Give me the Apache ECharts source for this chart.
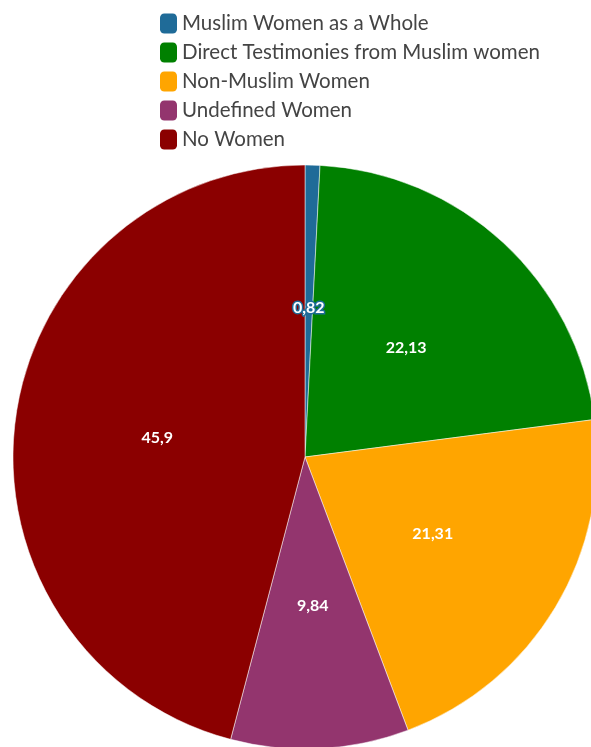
<!DOCTYPE html>
<html>
<head>
<meta charset="utf-8">
<script src="https://cdn.jsdelivr.net/npm/echarts@6/dist/echarts.min.js"></script>
<style>
  html, body { margin: 0; padding: 0; background: #fff; }
  #chart { width: 591px; height: 747px; }
</style>
</head>
<body>
<div id="chart"></div>
<script>
'use strict';

const categories = [
    'Muslim Women as a Whole',
    'Direct Testimonies from Muslim women',
    'Non-Muslim Women',
    'Undefined Women',
    'No Women',
];
const values = [0.82, 22.13, 21.31, 9.84, 45.9];
const colors = ['#1f6b98', '#008000', '#ffa500', '#93356e', '#8b0000'];

const chart = echarts.init(document.getElementById('chart'));

chart.setOption({
    animation: false,
    color: colors,
    legend: {
        orient: 'vertical',
        left: 160,
        top: 13,
        padding: 0,
        icon: 'roundRect',
        symbolKeepAspect: false,
        itemWidth: 17,
        itemHeight: 20,
        itemGap: 8,
        itemStyle: { borderWidth: 0 },
        textStyle: {
            fontFamily: 'Lato',
            fontSize: 20.5,
            lineHeight: 20,
            color: '#444',
        },
        data: categories,
    },
    series: [{
        type: 'pie',
        center: [305, 457],
        radius: 292,
        startAngle: 90,
        clockwise: true,
        itemStyle: { borderColor: '#fff', borderWidth: 0.5 },
        label: {
            position: 'inside',
            color: '#fff',
            fontFamily: 'Lato',
            fontWeight: 'bold',
            fontSize: 16,
            textBorderColor: 'inherit',
            textBorderWidth: 3,
            formatter: function (p) { return String(p.value).replace('.', ','); },
        },
        labelLine: { show: false },
        data: categories.map(function (name, i) {
            return { name: name, value: values[i] };
        }),
    }],
});
</script>
</body>
</html>
